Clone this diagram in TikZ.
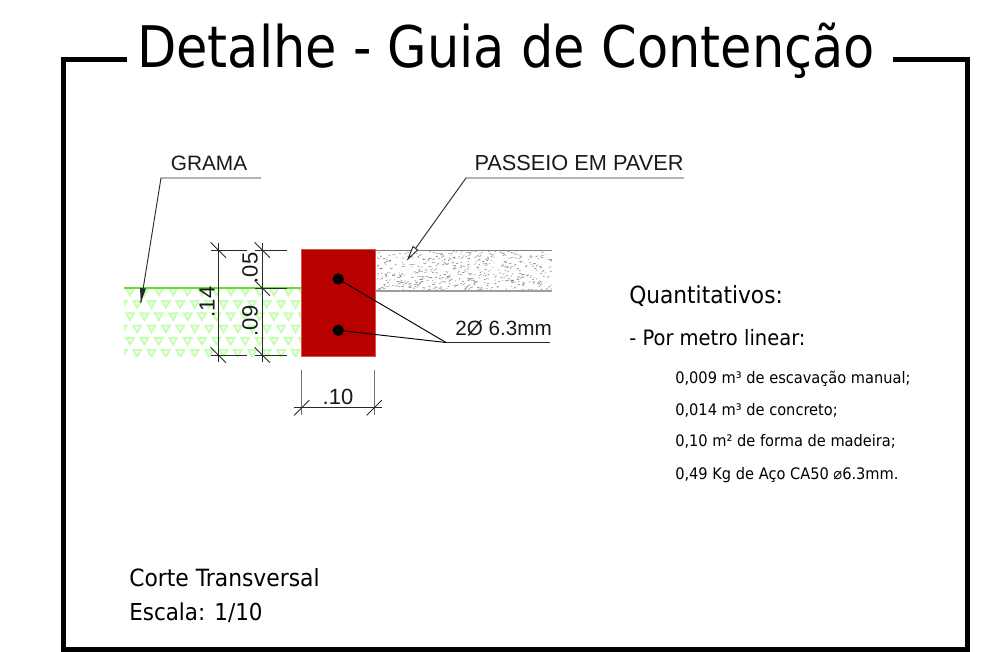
\documentclass[tikz,border=0pt]{standalone}
\usepackage{fontspec}
\setmainfont[FakeStretch=0.92]{DejaVu Sans}
\newfontfamily\titlef[FakeStretch=0.89]{DejaVu Sans}
\newfontfamily\arialf{Liberation Sans}
\definecolor{conc}{HTML}{B90000}
\definecolor{concedge}{HTML}{DC5050}
\definecolor{grassline}{HTML}{66DD33}
\definecolor{grasshatch}{HTML}{C6FFB4}
\definecolor{dimline}{HTML}{2A2A2A}
\tikzset{
  x=0.75pt,y=-0.75pt,
  framelin/.style={line width=3.7pt,black},
  dimlin/.style={line width=0.7pt,dimline},
  extlin/.style={line width=0.8pt,black!55},
  leaderlin/.style={line width=0.7pt,dimline},
  cadtext/.style={font=\arialf\fontsize{#1}{#1}\selectfont,inner sep=0pt,text=black!90},
  quant/.style={font=\fontsize{#1}{#1}\selectfont,inner sep=0pt,anchor=base west},
}
\begin{document}
\begin{tikzpicture}
\useasboundingbox (0,0) rectangle (984,651);
\clip (0,0) rectangle (984,651);
% frame
\coordinate (fa) at (127,59.7); \coordinate (fb) at (63.8,59.7); \coordinate (fc) at (63.8,649.3);
\coordinate (fd) at (967.5,649.3); \coordinate (fe) at (967.5,59.7); \coordinate (ff) at (893,59.7);
\draw[framelin,line join=miter] (fa) -- (fb) -- (fc) -- (fd) -- (fe) -- (ff);
\node[inner sep=0pt,anchor=base,font=\titlef\fontsize{43}{43}\selectfont] (title) at (506,67) {Detalhe - Guia de Contenção};
% grass hatch
\begin{scope}
\clip (124,288) rectangle (301,356.5);
\foreach \yy/\off in {292/130,304.3/122.7,316.6/130,328.9/122.7,341.2/130,353.5/122.7}{
  \foreach \k in {0,...,12}{
    \draw[grasshatch,line width=1.5pt] ({\off+\k*14.4-3.8},\yy-3.3) -- ({\off+\k*14.4+3.8},\yy-3.3) -- ({\off+\k*14.4},\yy+3.3) -- cycle;
  }
}
\end{scope}
\coordinate (gl) at (124,288); \coordinate (gr) at (302,288);
\draw[grassline,line width=1.5pt] (gl) -- (gr);
% paver
\begin{scope}
\clip (377,251) rectangle (552,291);
\pgfmathsetseed{7}
\foreach \i in {1,...,520}{
  \pgfmathsetmacro{\px}{375+177*rnd}
  \pgfmathsetmacro{\py}{251+40*rnd}
  \pgfmathsetmacro{\pa}{-40+50*rnd}
  \pgfmathsetmacro{\pl}{0.8+2.2*rnd}
  \draw[black!50,line width=0.4pt] (\px,\py) -- ++(\pa:\pl);
}
\end{scope}
\coordinate (pa) at (375,250.2); \coordinate (pb) at (552,250.2);
\coordinate (pc) at (375,291); \coordinate (pd) at (552,291);
\draw[black!50,line width=0.9pt] (pa) -- (pb);
\draw[black!38,line width=1.3pt] (pc) -- (pd);
% concrete
\node[draw=concedge,line width=0.4pt,fill=conc,minimum width=55.5pt,minimum height=79.9pt,inner sep=0pt] (beam) at (338,302.8) {};
\node[circle,fill=black,minimum size=8.5pt,inner sep=0pt] (bar1) at (338.3,279) {};
\node[circle,fill=black,minimum size=8.5pt,inner sep=0pt] (bar2) at (338.3,330.3) {};
% rebar leader
\coordinate (rl) at (446,342.5); \coordinate (rr) at (550,342.5);
\draw[leaderlin,black] (bar1) -- (rl);
\draw[leaderlin,black] (bar2) -- (rl);
\draw[leaderlin] (rl) -- (rr);
\node[cadtext=15.5,anchor=base west] (rebarlab) at (455,335) {2Ø 6.3mm};
% leader GRAMA
\coordinate (g1) at (261,178); \coordinate (g2) at (161,178); \coordinate (g3) at (140.8,303);
\draw[leaderlin] (g1) -- (g2) -- (g3);
\fill[dimline] (140.8,303) -- (140,288) -- (146,288.5) -- cycle;
\node[cadtext=15.6,anchor=base] (gramalab) at (209,170) {GRAMA};
% leader PASSEIO
\coordinate (p1) at (684,178); \coordinate (p2) at (466,178); \coordinate (p3) at (408,259);
\draw[leaderlin] (p1) -- (p2) -- (p3);
\draw[leaderlin,fill=white] (408,259) -- (413,246.5) -- (417.5,250) -- cycle;
\node[cadtext=16.3,anchor=base] (passeiolab) at (579,170) {PASSEIO EM PAVER};
% dimensions
\coordinate (d14t) at (218.3,250); \coordinate (d14b) at (218.3,355);
\coordinate (d5t) at (262.3,250); \coordinate (d5b) at (262.3,355);
\draw[dimlin] (210.7,250) -- (247,250);
\draw[dimlin] (255,250) -- (287,250);
\draw[dimlin] (210.7,355) -- (247,355);
\draw[dimlin] (255,355) -- (287,355);
\draw[dimlin] (255,288) -- (287,288);
\draw[dimlin] (218.3,242.7) -- (218.3,362);
\draw[dimlin] (262.3,242.7) -- (262.3,362);
\foreach \p in {(218.3,250),(262.3,250),(262.3,288),(218.3,355),(262.3,355)}{
  \draw[dimlin] \p ++(-7.7,-7.7) -- ++(15.4,15.4);
}
\node[cadtext=16.5,rotate=90] (d14) at (207,302) {.14};
\node[cadtext=16.5,rotate=90] (d05) at (250,268) {.05};
\node[cadtext=16.5,rotate=90] (d09) at (250,321) {.09};
% .10
\coordinate (w1) at (301.7,370); \coordinate (w2) at (374.3,370);
\coordinate (w3) at (301.7,415); \coordinate (w4) at (374.3,415);
\draw[extlin] (w1) -- (w3);
\draw[extlin] (w2) -- (w4);
\draw[dimlin] (294,407.7) -- (382,407.7);
\foreach \p in {(301.7,407.7),(374.3,407.7)}{
  \draw[dimlin] \p ++(-7.7,7.7) -- ++(15.4,-15.4);
}
\node[cadtext=16.5] (d10) at (338,397) {.10};
% texts
\node[quant=17.7] (q1) at (629,303) {Quantitativos:};
\node[quant=15.9] (q2) at (629,345) {- Por metro linear:};
\node[quant=11.9] (q3) at (675,383) {0,009 m³ de escavação manual;};
\node[quant=11.9] (q4) at (675,415) {0,014 m³ de concreto;};
\node[quant=11.9] (q5) at (675,446) {0,10 m² de forma de madeira;};
\node[quant=11.9] (q6) at (675,479) {0,49 Kg de Aço CA50 ⌀6.3mm.};
\node[quant=17.8] (c1) at (129,586) {Corte Transversal};
\node[quant=17.5] (c2) at (129,620) {Escala: 1/10};
\end{tikzpicture}
\end{document}
